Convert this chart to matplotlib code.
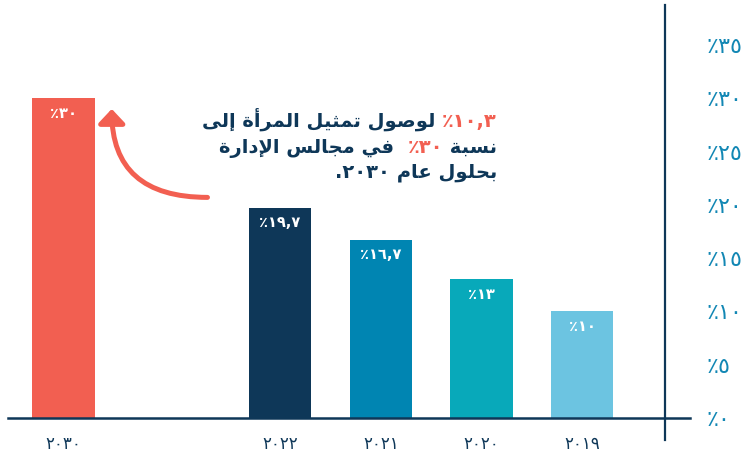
import matplotlib
matplotlib.use('Agg')
import matplotlib.pyplot as plt
from matplotlib.patches import FancyArrowPatch

# ── data ──────────────────────────────────────────────────────────────────────
years        = ['٢٠١٩', '٢٠٢٠', '٢٠٢١', '٢٠٢٢', '٢٠٣٠']
values       = [10, 13, 16.7, 19.7, 30]
value_labels = ['٪١٠', '٪١٣', '٪١٦,٧', '٪١٩,٧', '٪٣٠']
y_ticks      = [0, 5, 10, 15, 20, 25, 30, 35]
y_tick_labels = ['٪٠', '٪٥', '٪١٠', '٪١٥', '٪٢٠', '٪٢٥', '٪٣٠', '٪٣٥']

# slot positions (right to left), 2030 separated by a gap
positions = [0, 1, 2, 3, 5.15]

NAVY  = '#0E3758'
CORAL = '#F25F51'
BLUE  = '#1287B4'
bar_colors = ['#6CC4E1', '#08A9BA', '#0085B2', NAVY, CORAL]

# ── minimal arabic shaping (matplotlib has no bidi / joining) ────────────────
FORMS = {
    'ا': ('\uFE8D', '\uFE8E', None, None),
    'أ': ('\uFE83', '\uFE84', None, None),
    'إ': ('\uFE87', '\uFE88', None, None),
    'ب': ('\uFE8F', '\uFE90', '\uFE91', '\uFE92'),
    'ة': ('\uFE93', '\uFE94', None, None),
    'ت': ('\uFE95', '\uFE96', '\uFE97', '\uFE98'),
    'ث': ('\uFE99', '\uFE9A', '\uFE9B', '\uFE9C'),
    'ج': ('\uFE9D', '\uFE9E', '\uFE9F', '\uFEA0'),
    'ح': ('\uFEA1', '\uFEA2', '\uFEA3', '\uFEA4'),
    'د': ('\uFEA9', '\uFEAA', None, None),
    'ر': ('\uFEAD', '\uFEAE', None, None),
    'س': ('\uFEB1', '\uFEB2', '\uFEB3', '\uFEB4'),
    'ص': ('\uFEB9', '\uFEBA', '\uFEBB', '\uFEBC'),
    'ع': ('\uFEC9', '\uFECA', '\uFECB', '\uFECC'),
    'ف': ('\uFED1', '\uFED2', '\uFED3', '\uFED4'),
    'ل': ('\uFEDD', '\uFEDE', '\uFEDF', '\uFEE0'),
    'م': ('\uFEE1', '\uFEE2', '\uFEE3', '\uFEE4'),
    'ن': ('\uFEE5', '\uFEE6', '\uFEE7', '\uFEE8'),
    'و': ('\uFEED', '\uFEEE', None, None),
    'ى': ('\uFEEF', '\uFEF0', None, None),
    'ي': ('\uFEF1', '\uFEF2', '\uFEF3', '\uFEF4'),
}
LAM_ALEF = {'ا': ('\uFEFB', '\uFEFC', None, None),
            'أ': ('\uFEF7', '\uFEF8', None, None),
            'إ': ('\uFEF9', '\uFEFA', None, None)}


def rtl(text):
    """shape arabic letters and return the string in visual (LTR) order"""
    tokens = []
    i = 0
    while i < len(text):
        c = text[i]
        if c == 'ل' and i + 1 < len(text) and text[i + 1] in LAM_ALEF:
            tokens.append(LAM_ALEF[text[i + 1]]); i += 2
            continue
        tokens.append(FORMS.get(c, c)); i += 1
    out = []
    for k, tk in enumerate(tokens):
        if isinstance(tk, str):
            out.append(tk); continue
        prev = k > 0 and isinstance(tokens[k - 1], tuple) and tokens[k - 1][2] is not None
        nxt = (tk[2] is not None and k + 1 < len(tokens) and isinstance(tokens[k + 1], tuple))
        if prev and nxt:
            out.append(tk[3])
        elif prev:
            out.append(tk[1])
        elif nxt:
            out.append(tk[2])
        else:
            out.append(tk[0])
    return ''.join(reversed(out))


# ── figure ────────────────────────────────────────────────────────────────────
W, H = 756, 457
fig = plt.figure(figsize=(W / 100, H / 100), dpi=100, facecolor='white')
ax = fig.add_axes([8 / W, (H - 418) / H, (690 - 8) / W, (418 - 45) / H])

ax.bar(positions, values, width=0.62, color=bar_colors, zorder=2)
for p, v, lab in zip(positions, values, value_labels):
    ax.text(p, v - 1.4, lab, ha='center', va='center', color='white',
            fontsize=10.5, fontweight='bold')

ax.set_xlim(5.70, -1.07)
ax.set_ylim(0, 35)

for s in ['top', 'left', 'right']:
    ax.spines[s].set_visible(False)
ax.spines['bottom'].set_color(NAVY)
ax.spines['bottom'].set_linewidth(1.8)

ax.set_xticks(positions)
ax.set_xticklabels(years, fontsize=12, color=NAVY)
ax.tick_params(axis='x', length=0, pad=12)

ax.yaxis.tick_right()
ax.set_yticks(y_ticks)
ax.set_yticklabels(y_tick_labels, fontsize=16, color=BLUE)
ax.tick_params(axis='y', length=0, pad=12)

# vertical axis line on the right, running past the baseline
ax.axvline(-0.82, ymin=-22 / 373, ymax=413 / 373, color=NAVY, lw=1.6, clip_on=False)

# curved arrow from the text to the 2030 bar
x30, v30 = positions[-1], values[-1]
arrow = FancyArrowPatch((x30 - 1.43, v30 - 9.3), (x30 - 0.48, v30 - 1.0),
                        connectionstyle='angle3,angleA=0,angleB=90',
                        arrowstyle='-|>,head_length=8.5,head_width=8',
                        color=CORAL, lw=3.6, shrinkA=0, shrinkB=0, zorder=3)
ax.add_patch(arrow)

# annotation text, drawn right to left segment by segment
renderer = fig.canvas.get_renderer()


def rtl_line(segments, x_right, y_base, size=14):
    x = x_right
    for txt, col in segments:
        t = fig.text(x / W, 1 - y_base / H, txt, ha='right', va='baseline',
                     color=col, fontsize=size, fontweight='bold')
        x -= t.get_window_extent(renderer).width


rtl_line([('٪١٠,٣', CORAL), (rtl(' لوصول تمثيل المرأة إلى'), NAVY)], 497, 127)
rtl_line([(rtl('نسبة '), NAVY), ('٪٣٠', CORAL), (rtl('  في مجالس الإدارة'), NAVY)], 497, 153)
rtl_line([(rtl('بحلول عام '), NAVY), ('.٢٠٣٠', NAVY)], 497, 178)

plt.savefig('out.png', dpi=100, facecolor='white')
